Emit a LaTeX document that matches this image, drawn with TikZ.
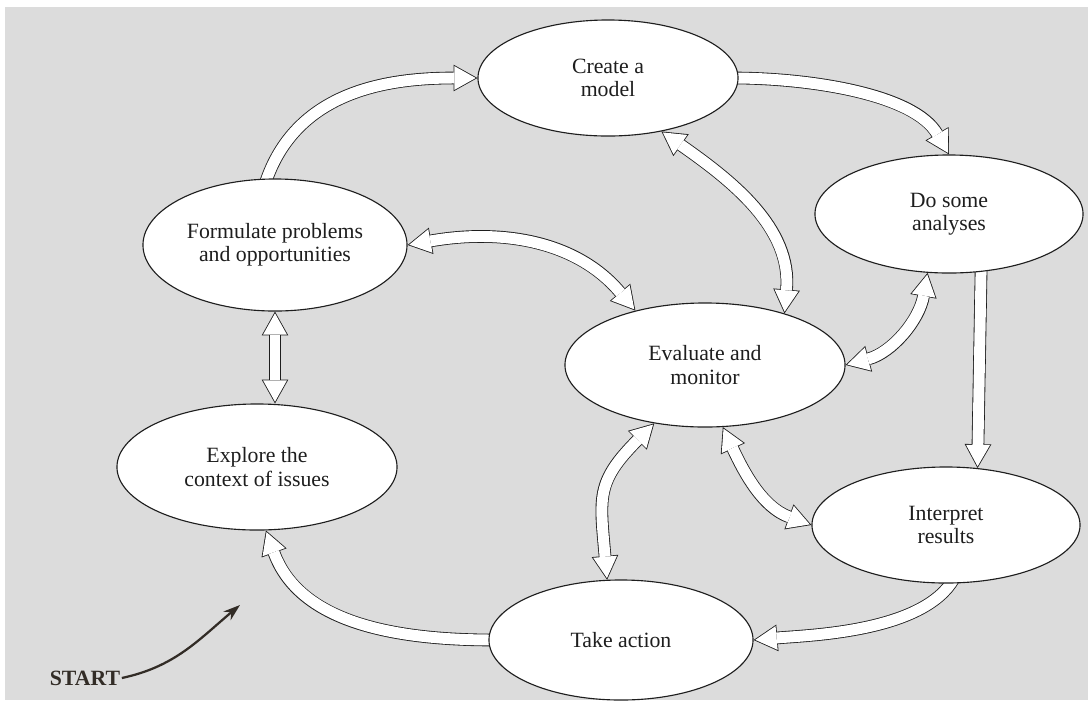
\documentclass[tikz,border=0pt]{standalone}
\usepackage{fontspec}
\setmainfont{Liberation Serif}
\usetikzlibrary{arrows.meta, shapes.geometric, backgrounds, positioning}

\definecolor{paper}{RGB}{220,220,220}
\definecolor{inkbrown}{RGB}{50,44,38}
\definecolor{inkgray}{RGB}{30,30,30}

\begin{document}
\begin{tikzpicture}[x=0.025cm, y=0.025cm,
    stage/.style={ellipse, draw=inkgray, fill=white, line width=0.8pt, inner sep=0pt,
      align=center, text=inkgray, font=\fontsize{15.5}{16.5}\selectfont},
    flow/.style={draw=inkgray, line width=9pt, shorten <=-4pt,
      -{Triangle[length=17pt, width=19pt, line width=0pt]},
      postaction={draw=white, line width=7.8pt, shorten <=-4pt, shorten >=1.23pt,
        -{Triangle[length=15.2pt, width=17pt, line width=0pt]}}},
    flowboth/.style={draw=inkgray, line width=9pt,
      {Triangle[length=17pt, width=19pt, line width=0pt]}-{Triangle[length=17pt, width=19pt, line width=0pt]},
      postaction={draw=white, line width=7.8pt, shorten <=1.23pt, shorten >=1.23pt,
        {Triangle[length=15.2pt, width=17pt, line width=0pt]}-{Triangle[length=15.2pt, width=17pt, line width=0pt]}}}]
  \useasboundingbox (0,0) rectangle (1088,-700);

  \node[stage, minimum width=6.5cm, minimum height=2.9cm]  (create)    at (608,-78)  {Create a\\model};
  \node[stage, minimum width=6.6cm, minimum height=3.3cm]  (formulate) at (275,-245) {Formulate problems\\and opportunities};
  \node[stage, minimum width=6.7cm, minimum height=2.95cm] (analyses)  at (949,-214) {Do some\\analyses};
  \node[stage, minimum width=7.0cm, minimum height=3.1cm]  (evaluate)  at (705,-365) {Evaluate and\\monitor};
  \node[stage, minimum width=7.0cm, minimum height=3.15cm] (explore)   at (257,-467) {Explore the\\context of issues};
  \node[stage, minimum width=6.7cm, minimum height=2.9cm]  (interpret) at (946,-525) {Interpret\\results};
  \node[stage, minimum width=6.6cm, minimum height=3.0cm]  (action)    at (621,-640) {Take action};

  \node[font=\fontsize{15.5}{17}\selectfont\bfseries, text=inkbrown, inner sep=1pt] (start) at (85,-678) {START};
  \coordinate (start_tip) at (240,-605);

  \begin{scope}[on background layer]
    \fill[paper] (5,-7) rectangle (1088,-700);
    % the main loop
    \draw[flow] (formulate.97) to[out=72, in=180] (create.west);
    \draw[flow] (create.east) to[out=0, in=120, looseness=0.8] (analyses.north);
    \draw[flow] (analyses.-61) -- (interpret.61);
    \draw[flow] (interpret.-85) to[out=-120, in=5, looseness=0.7] (action.east);
    \draw[flow] (action.west) to[out=180, in=-70] (explore.-82);
    \draw[flowboth] (formulate.south) -- (formulate.south |- explore.north);
    % links to evaluate and monitor
    \draw[flowboth] (create.-45) to[out=-35, in=85] (evaluate.33);
    \draw[flowboth] (formulate.east) to[out=10, in=130] (evaluate.142);
    \draw[flowboth] (evaluate.east) to[out=15, in=-100] (analyses.-110);
    \draw[flowboth] (evaluate.-131) to[out=-135, in=95, looseness=1.3] (action.103);
    \draw[flowboth] (evaluate.-74) to[out=-65, in=160] (interpret.west);
  \end{scope}

  \draw[inkbrown, line width=1.6pt, -{Stealth[length=12pt, width=8pt]}]
    (start.east) to[out=12, in=-140] (start_tip);
\end{tikzpicture}
\end{document}
